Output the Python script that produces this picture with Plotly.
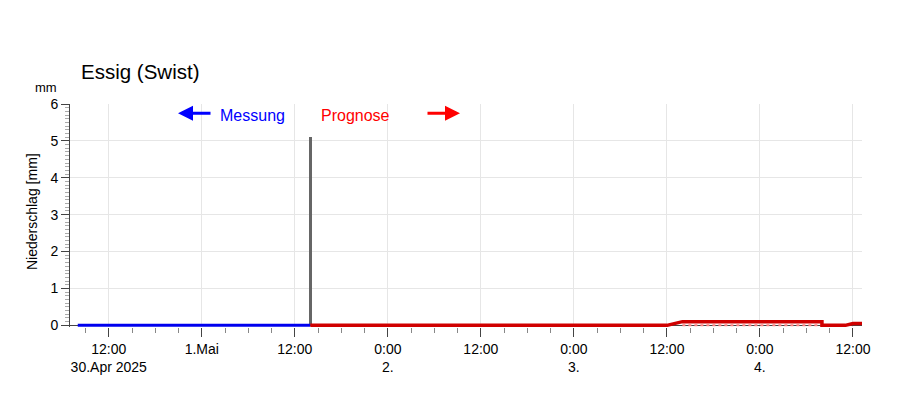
import plotly.graph_objects as go

# ---- data ----
meas_times = ["2025-04-30 08:00", "2025-05-01 14:00"]
meas_values = [0, 0]

bar_times = ["2025-05-01 14:00"]
bar_values = [5.1]

fc_times = ["2025-05-01 14:00", "2025-05-03 12:00", "2025-05-03 14:00", "2025-05-04 08:00",
            "2025-05-04 08:00", "2025-05-04 11:00", "2025-05-04 12:00", "2025-05-04 13:10"]
fc_values = [0, 0, 0.1, 0.1, 0, 0, 0.05, 0.05]

low_times = ["2025-05-03 14:00", "2025-05-04 08:00"]
low_values = [0, 0]

tick_vals = ["2025-04-30 12:00", "2025-05-01 00:00", "2025-05-01 12:00", "2025-05-02 00:00",
             "2025-05-02 12:00", "2025-05-03 00:00", "2025-05-03 12:00", "2025-05-04 00:00",
             "2025-05-04 12:00"]
tick_text = ["12:00<br>30.Apr 2025", "1.Mai", "12:00", "0:00<br>2.", "12:00",
             "0:00<br>3.", "12:00", "0:00<br>4.", "12:00"]

FONT = "Liberation Sans, Arial, sans-serif"

fig = go.Figure()
fig.add_trace(go.Bar(x=bar_times, y=bar_values, width=0.38 * 3600000,
                     marker=dict(color="#666666", line=dict(width=0)), hoverinfo="skip"))
fig.add_trace(go.Scatter(x=low_times, y=low_values, mode="lines",
                         line=dict(color="#ff8080", width=2, dash="dot"), hoverinfo="skip"))
fig.add_trace(go.Scatter(x=meas_times, y=meas_values, mode="lines",
                         line=dict(color="#0000ee", width=3), hoverinfo="skip"))
fig.add_trace(go.Scatter(x=fc_times, y=fc_values, mode="lines",
                         line=dict(color="#d00000", width=3.5), hoverinfo="skip"))

fig.update_layout(
    width=900, height=396,
    margin=dict(l=70, r=38, t=104, b=69),
    paper_bgcolor="white", plot_bgcolor="white",
    showlegend=False,
    font=dict(family=FONT, size=14, color="#000000"),
    bargap=0,
)

fig.update_xaxes(
    type="date",
    range=["2025-04-30 07:00", "2025-05-04 13:10"],
    tickmode="array", tickvals=tick_vals, ticktext=tick_text,
    ticks="outside", ticklen=9, tickwidth=1, tickcolor="#444444",
    showgrid=True, gridcolor="#e6e6e6", gridwidth=1,
    showline=False, zeroline=False,
    tickfont=dict(size=14, family=FONT, color="#000000"),
    minor=dict(tickmode="linear", tick0="2025-04-30 00:00", dtick=3 * 3600000,
               ticks="outside", ticklen=5, tickcolor="#888888", showgrid=False),
)

fig.update_yaxes(
    range=[-0.045, 6],
    tickmode="linear", tick0=0, dtick=1,
    ticks="outside", ticklen=8, tickwidth=1, tickcolor="#444444",
    showgrid=True, gridcolor="#e6e6e6", gridwidth=1,
    showline=True, linecolor="#444444", linewidth=1,
    zeroline=True, zerolinecolor="#444444", zerolinewidth=1,
    tickfont=dict(size=14, family=FONT, color="#000000"),
    minor=dict(tickmode="linear", tick0=0, dtick=0.1, ticks="outside", ticklen=4,
               tickcolor="#aaaaaa", showgrid=False),
)

# title and axis labels
fig.add_annotation(text="Essig (Swist)", xref="paper", yref="paper",
                   x=(79 - 70) / 792, y=1.145, xanchor="left", yanchor="middle",
                   showarrow=False, font=dict(size=20.5, family=FONT, color="#000000"))
fig.add_annotation(text="mm", xref="paper", yref="paper",
                   x=-0.030, y=1.074, xanchor="center", yanchor="middle",
                   showarrow=False, font=dict(size=13, family=FONT, color="#000000"))
fig.add_annotation(text="Niederschlag [mm]", xref="paper", yref="paper",
                   x=-0.048, y=0.52, xanchor="center", yanchor="middle", textangle=-90,
                   showarrow=False, font=dict(size=14, family=FONT, color="#000000"))

# Messung / Prognose markers
fig.add_annotation(text="", xref="paper", yref="y", x=(178 - 70) / 792, y=5.75,
                   ax=34, ay=0, axref="pixel", ayref="pixel", showarrow=True,
                   arrowhead=2, arrowsize=1, arrowwidth=3, arrowcolor="#0000ff")
fig.add_annotation(text="Messung", xref="paper", yref="y", x=(218 - 70) / 792, y=5.68,
                   xanchor="left", yanchor="middle", showarrow=False,
                   font=dict(size=16, family=FONT, color="#0000ff"))
fig.add_annotation(text="Prognose", xref="paper", yref="y", x=(319 - 70) / 792, y=5.68,
                   xanchor="left", yanchor="middle", showarrow=False,
                   font=dict(size=16, family=FONT, color="#ff0000"))
fig.add_annotation(text="", xref="paper", yref="y", x=(460 - 70) / 792, y=5.75,
                   ax=-34, ay=0, axref="pixel", ayref="pixel", showarrow=True,
                   arrowhead=2, arrowsize=1, arrowwidth=3, arrowcolor="#ff0000")

fig.write_html("out.html", config={"displayModeBar": False, "staticPlot": True},
               post_script="document.body.style.margin='0px';document.body.style.overflow='hidden';")
